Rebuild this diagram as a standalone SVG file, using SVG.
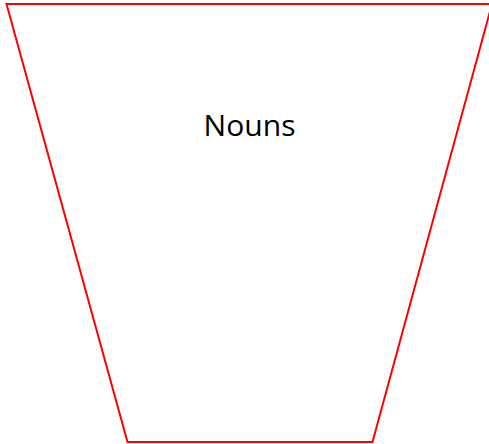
<svg xmlns="http://www.w3.org/2000/svg" width="489" height="444" viewBox="0 0 489 444">
<style>
.shape{fill:#ffffff;stroke:#ff0000;stroke-width:2}
.label{font-family:"Open Sans","Noto Sans",sans-serif;font-size:29px;fill:#000000}
</style>
<rect width="489" height="444" fill="#ffffff"/>
<g id="nouns">
<polygon class="shape" points="6.5,4 492,4 372.5,442 127.5,442"/>
<text class="label" x="249.5" y="135.5" text-anchor="middle" textLength="92" lengthAdjust="spacingAndGlyphs">Nouns</text>
</g>
<g id="connectors"></g>
</svg>
